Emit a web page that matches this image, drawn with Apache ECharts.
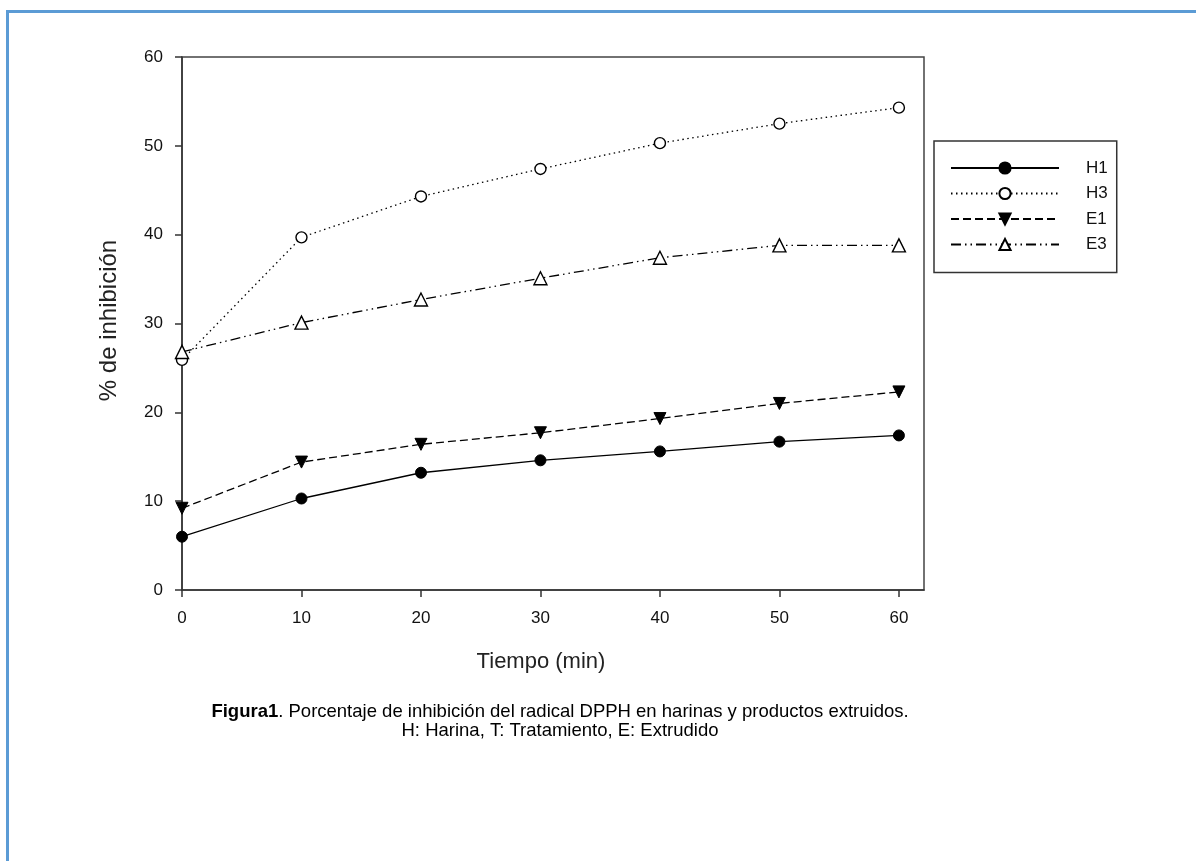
<!DOCTYPE html>
<html><head><meta charset="utf-8">
<script src="https://cdn.jsdelivr.net/npm/echarts@6/dist/echarts.min.js"></script>
<style>html,body{margin:0;padding:0;background:#fff}#c{width:1196px;height:861px}</style>
</head><body><div id="c"></div>
<script>
const times = [0, 10, 20, 30, 40, 50, 60];
const H1 = [6.0, 10.3, 13.2, 14.6, 15.6, 16.7, 17.4];
const H3 = [25.9, 39.7, 44.3, 47.4, 50.3, 52.5, 54.3];
const E1 = [9.2, 14.4, 16.4, 17.7, 19.3, 21.0, 22.3];
const E3 = [26.8, 30.1, 32.7, 35.1, 37.4, 38.8, 38.8];
const xTicks = [0, 10, 20, 30, 40, 50, 60];
const seriesNames = ['H1', 'H3', 'E1', 'E3'];
const xName = 'Tiempo (min)';
const yName = '% de inhibición';
const caption1 = '{b|Figura1}{n|. Porcentaje de inhibición del radical DPPH en harinas y productos extruidos.}';
const caption2 = 'H: Harina, T: Tratamiento, E: Extrudido';

const FF = "Arial, 'Liberation Sans', sans-serif";
const pts = arr => times.map((t, i) => [t, arr[i]]);
const axisCol = '#333';
const CAP = 18.5;

const chart = echarts.init(document.getElementById('c'), null, {renderer: 'canvas'});
chart.setOption({
  animation: false,
  backgroundColor: '#fff',
  textStyle: {fontFamily: FF},
  grid: {left: 182, right: 272, top: 57, bottom: 271, show: true, borderColor: '#444', borderWidth: 1.5, backgroundColor: 'transparent'},
  legend: {
    data: seriesNames, orient: 'vertical', left: 934, top: 141,
    itemWidth: 108, itemHeight: 14, itemGap: 7.5,
    padding: [18, 9, 19, 16], borderColor: '#333', borderWidth: 1.5,
    textStyle: {fontSize: 17, color: '#111', padding: [0, 0, 0, 22], lineHeight: 18, fontFamily: FF},
    selectedMode: false
  },
  xAxis: {
    type: 'value', min: 0, max: 62.1, interval: 10,
    axisLine: {onZero: false, lineStyle: {color: axisCol, width: 1.5}},
    axisTick: {customValues: xTicks, length: 7, inside: false, lineStyle: {color: axisCol, width: 1.5}},
    axisLabel: {customValues: xTicks, fontSize: 17, color: '#111', margin: 20, fontFamily: FF,
      formatter: v => (v % 10 === 0 ? String(v) : '')},
    splitLine: {show: false},
    name: xName, nameLocation: 'middle', nameGap: 61,
    nameTextStyle: {fontSize: 22, color: '#222', fontFamily: FF, padding: [0, 24, 0, 0]}
  },
  yAxis: {
    type: 'value', min: 0, max: 60, interval: 10,
    axisLine: {show: true, onZero: false, lineStyle: {color: axisCol, width: 1.5}},
    axisTick: {show: true, length: 7, inside: false, lineStyle: {color: axisCol, width: 1.5}},
    axisLabel: {fontSize: 17, color: '#111', margin: 19, fontFamily: FF},
    splitLine: {show: false},
    name: yName, nameLocation: 'middle', nameGap: 61,
    nameTextStyle: {fontSize: 24, color: '#222', fontFamily: FF, padding: [0, 0, 0, 6]}
  },
  series: [
    {name: 'H1', type: 'line', data: pts(H1), symbol: 'circle', symbolSize: 11, showAllSymbol: true,
      lineStyle: {color: '#000', width: 1.3, type: 'solid'}, itemStyle: {color: '#000', borderColor: '#000', borderWidth: 1}},
    {name: 'H3', type: 'line', data: pts(H3), symbol: 'circle', symbolSize: 11, showAllSymbol: true,
      lineStyle: {color: '#000', width: 1.3, type: [1.5, 3.5]}, itemStyle: {color: '#fff', borderColor: '#000', borderWidth: 1.4}},
    {name: 'E1', type: 'line', data: pts(E1), symbol: 'path://M0,0 L10,0 L5,10 Z', symbolSize: 12, showAllSymbol: true,
      lineStyle: {color: '#000', width: 1.3, type: [8, 4]}, itemStyle: {color: '#000', borderColor: '#000', borderWidth: 1}},
    {name: 'E3', type: 'line', data: pts(E3), symbol: 'triangle', symbolSize: 13, showAllSymbol: true,
      lineStyle: {color: '#000', width: 1.3, type: [10, 4, 1.5, 4, 1.5, 4]}, itemStyle: {color: '#fff', borderColor: '#000', borderWidth: 1.4}}
  ],
  graphic: [
    {type: 'rect', silent: true, shape: {x: 7.5, y: 11.5, width: 1400, height: 1000},
      style: {fill: 'none', stroke: '#5b9bd5', lineWidth: 3}},
    {type: 'text', silent: true, x: 560, y: 712,
      style: {text: caption1, align: 'center', verticalAlign: 'middle', fill: '#000', fontSize: CAP, fontFamily: FF,
        rich: {b: {fontWeight: 'bold', fontSize: CAP, fontFamily: FF, fill: '#000'}, n: {fontSize: CAP, fontFamily: FF, fill: '#000'}}}},
    {type: 'text', silent: true, x: 560, y: 731,
      style: {text: caption2, align: 'center', verticalAlign: 'middle', fill: '#000', fontSize: CAP, fontFamily: FF}}
  ]
});
</script>
</body></html>
